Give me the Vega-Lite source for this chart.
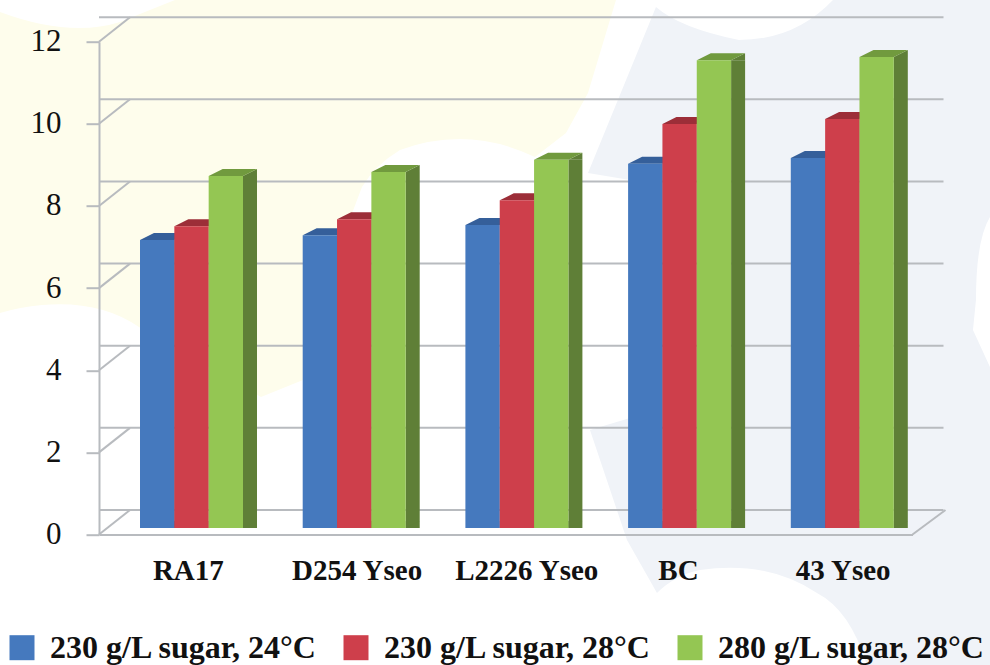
{
"$schema":"https://vega.github.io/schema/vega-lite/v6.json",
"width":813.5,"height":492.8,
"autosize":{"type":"none"},
"padding":{"left":99,"top":41.7,"right":77.5,"bottom":130.5},
"background":"#ffffff",
"view":{"stroke":null},
"datasets":{
 "bars":[
 {"strain":"RA17","series":"230 g/L sugar, 24°C","value":7.01},
 {"strain":"RA17","series":"230 g/L sugar, 28°C","value":7.35},
 {"strain":"RA17","series":"280 g/L sugar, 28°C","value":8.57},
 {"strain":"D254 Yseo","series":"230 g/L sugar, 24°C","value":7.13},
 {"strain":"D254 Yseo","series":"230 g/L sugar, 28°C","value":7.52},
 {"strain":"D254 Yseo","series":"280 g/L sugar, 28°C","value":8.67},
 {"strain":"L2226 Yseo","series":"230 g/L sugar, 24°C","value":7.38},
 {"strain":"L2226 Yseo","series":"230 g/L sugar, 28°C","value":7.98},
 {"strain":"L2226 Yseo","series":"280 g/L sugar, 28°C","value":8.97},
 {"strain":"BC","series":"230 g/L sugar, 24°C","value":8.87},
 {"strain":"BC","series":"230 g/L sugar, 28°C","value":9.84},
 {"strain":"BC","series":"280 g/L sugar, 28°C","value":11.39},
 {"strain":"43 Yseo","series":"230 g/L sugar, 24°C","value":9.01},
 {"strain":"43 Yseo","series":"230 g/L sugar, 28°C","value":9.96},
 {"strain":"43 Yseo","series":"280 g/L sugar, 28°C","value":11.47}
 ],
 "ticks":[{"value":0},{"value":2},{"value":4},{"value":6},{"value":8},{"value":10},{"value":12}],
 "backdrop":[{"strain":"RA17","value":12}],
 "floor":[{"value":0}]
},
"data":{"name":"bars"},
"encoding":{
 "x":{"field":"strain","type":"nominal","sort":null,"scale":{"domain":["RA17","D254 Yseo","L2226 Yseo","BC","43 Yseo"],"paddingInner":0,"paddingOuter":0},
  "axis":{"title":null,"domainColor":"#b8bbbf","domainWidth":2,"ticks":false,"labelAngle":0,"labelFont":"Liberation Serif","labelFontWeight":"bold","labelFontSize":29,"labelColor":"#111111","labelPadding":22,"labelLimit":300,"zindex":1,
     "labelOffset":{"condition":[{"test":"datum.value==='RA17'","value":8},{"test":"datum.value==='D254 Yseo'","value":14},{"test":"datum.value==='L2226 Yseo'","value":21},{"test":"datum.value==='BC'","value":10}],"value":12}}},
 "y":{"field":"value","type":"quantitative","scale":{"domain":[0,12],"nice":false},
  "axis":{"title":null,"grid":false,"values":[0,2,4,6,8,10,12],"domainColor":"#b8bbbf","domainWidth":2,"tickColor":"#b8bbbf","tickWidth":2,"tickSize":13,"labelFont":"Liberation Serif","labelFontSize":31,"labelColor":"#111111","labelPadding":25,"zindex":1}}
},
"layer":[
 {"data":{"name":"backdrop"},
  "mark":{"type":"point","filled":true,"opacity":1,"strokeWidth":0,"size":4,"color":"#fefdec","xOffset":-180.375,"yOffset":-41.7,
   "shape":"M0,12Q70,38 120,22L175,0L616,0L588,93L566,133L535,157Q468,125 400,150Q375,165 362,187L328,277L303,380L261,397L139,327Q100,300 42,305Q20,307 0,313Z"}},
 {"data":{"name":"backdrop"},
  "mark":{"type":"point","filled":true,"opacity":1,"strokeWidth":0,"size":4,"color":"#f0f3f8","xOffset":-180.375,"yOffset":-41.7,
   "shape":"M656,7Q680,28 739,40Q795,40 833,0L990,0L990,217Q976,240 976,300L973,330L990,367L990,665L867,665Q850,610 817,593Q767,560 700,570Q675,575 657,593L627,540L590,430L630,418L630,180L588,173Z"}},
 {"data":{"name":"ticks"},
  "mark":{"type":"rule","color":"#b8bbbf","strokeWidth":2,"xOffset":31,"x2Offset":32,"yOffset":-24.5},
  "encoding":{"x":null}},
 {"data":{"name":"ticks"},
  "mark":{"type":"rule","color":"#b8bbbf","strokeWidth":2,"y2Offset":-24.5},
  "encoding":{"x":{"value":0},"x2":{"value":31},"y2":{"field":"value"}}},
 {"data":{"name":"floor"},
  "mark":{"type":"rule","color":"#b8bbbf","strokeWidth":2,"y2Offset":-24.5},
  "encoding":{"x":{"value":813.5},"x2":{"value":846.5},"y2":{"field":"value"}}},
 {"mark":{"type":"bar","width":14,"yOffset":-6.5,"y2Offset":-13.5},
  "encoding":{"xOffset":{"field":"series","type":"nominal","sort":null,"scale":{"range":[65.17,168.17]}},
   "color":{"field":"series","type":"nominal","sort":null,"scale":{"range":["#34588c","#94303a","#5f7f37"]},"legend":null}}},
 {"mark":{"type":"point","filled":true,"opacity":1,"strokeWidth":0,"size":4,"yOffset":-6.5,"shape":"M17.15,0L31.15,-7L31.15,0Z"},
  "encoding":{"xOffset":{"field":"series","type":"nominal","sort":null,"scale":{"range":[41,144]}},
   "color":{"field":"series","type":"nominal","sort":null,"scale":{"range":["#34588c","#94303a","#5f7f37"]},"legend":null}}},
 {"mark":{"type":"point","filled":true,"opacity":1,"strokeWidth":0,"size":4,"yOffset":-6.5,"shape":"M17.15,0L31.15,-7L17.15,-7Z"},
  "encoding":{"y":{"datum":0},"xOffset":{"field":"series","type":"nominal","sort":null,"scale":{"range":[41,144]}},
   "color":{"field":"series","type":"nominal","sort":null,"scale":{"range":["#34588c","#94303a","#5f7f37"]},"legend":null}}},
 {"mark":{"type":"point","filled":true,"opacity":1,"strokeWidth":0,"size":4,"yOffset":-6.5,"shape":"M-17.15,0L17.15,0L31.15,-7L-3.15,-7Z"},
  "encoding":{"xOffset":{"field":"series","type":"nominal","sort":null,"scale":{"range":[41,144]}},
   "color":{"field":"series","type":"nominal","sort":null,"scale":{"range":["#355f9a","#9c2e38","#719a3e"]},"legend":null}}},
 {"mark":{"type":"bar","yOffset":-6.5,"y2Offset":-6.5},
  "encoding":{
   "xOffset":{"field":"series","type":"nominal","sort":null,"scale":{"range":[41,144]}},
   "color":{"field":"series","type":"nominal","sort":null,"scale":{"range":["#4579be","#ce3f4b","#94c653"]},
    "legend":{"title":null,"orient":"none","legendX":-93,"legendY":590,"direction":"horizontal","columns":3,"symbolType":"square","symbolSize":625,"symbolStrokeWidth":0,"labelOffset":12,"columnPadding":22,"padding":0,"labelFont":"Liberation Serif","labelFontWeight":"bold","labelFontSize":32,"labelColor":"#111111","labelLimit":400}}}}
],
"resolve":{"scale":{"color":"independent","xOffset":"independent"}}
}
